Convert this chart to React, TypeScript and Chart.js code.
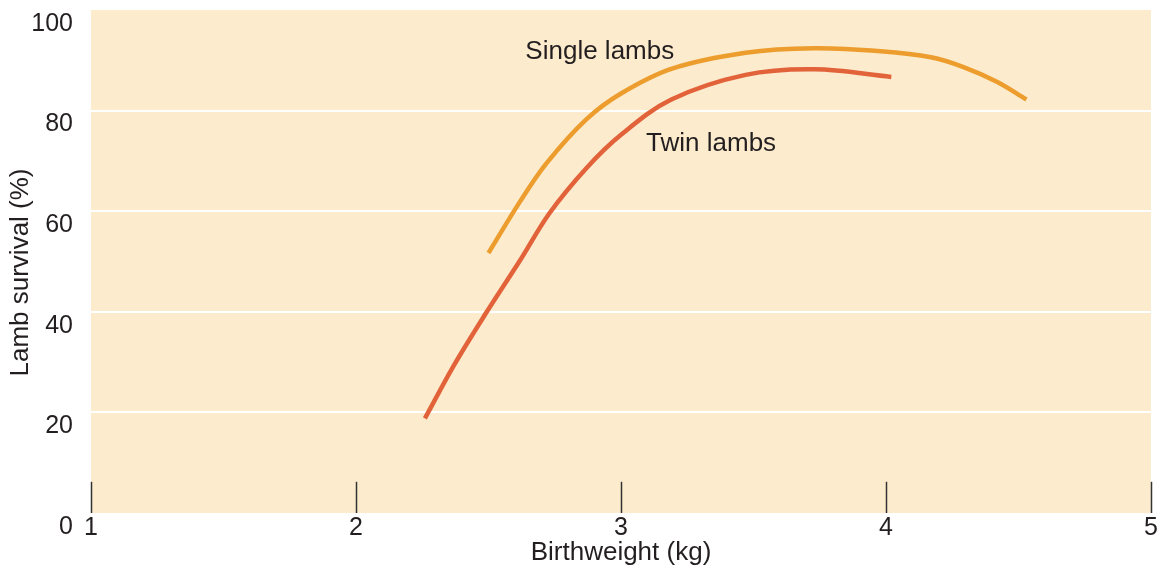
import React, { useEffect, useRef } from "react";
import { Chart, registerables } from "chart.js";

Chart.register(...registerables);

const xTicks = [1, 2, 3, 4, 5];
const yTicks = [0, 20, 40, 60, 80, 100];

const singleX = [2.5, 2.62, 2.72, 2.87, 3.0, 3.19, 3.47, 3.73, 3.98, 4.17, 4.29, 4.42, 4.53];
const singleY = [51.7, 62.0, 69.6, 78.3, 83.4, 88.3, 91.5, 92.4, 91.8, 90.6, 88.7, 85.7, 82.2];

const twinX = [2.26, 2.37, 2.49, 2.62, 2.73, 2.87, 3.0, 3.19, 3.47, 3.73, 4.02];
const twinY = [18.8, 29.4, 39.7, 50.3, 59.6, 68.6, 75.2, 82.2, 87.1, 88.2, 86.7];

const seriesLabels = ["Single lambs", "Twin lambs"];
const labelX = [2.92, 3.34];
const labelY = [91.6, 73.4];

const yTitle = "Lamb survival (%)";
const xTitle = "Birthweight (kg)";

const FONT = "'Liberation Sans', Arial, Helvetica, sans-serif";
const TEXT = "#231f20";

const bgPlugin = {
  id: "bgPlugin",
  beforeDraw(chart: any) {
    const { ctx, chartArea } = chart;
    ctx.save();
    ctx.fillStyle = "#fcebcc";
    ctx.fillRect(chartArea.left, chartArea.top, chartArea.right - chartArea.left, chartArea.bottom - chartArea.top);
    ctx.restore();
  },
  beforeDatasetsDraw(chart: any) {
    const { ctx } = chart;
    const xs = chart.scales.x;
    const ys = chart.scales.y;
    const y0 = ys.getPixelForValue(0);
    const y1 = ys.getPixelForValue(6.2);
    ctx.save();
    ctx.strokeStyle = "#333";
    ctx.lineWidth = 1.5;
    xTicks.forEach((v) => {
      const x = Math.round(xs.getPixelForValue(v)) + 0.5;
      ctx.beginPath();
      ctx.moveTo(x, y0);
      ctx.lineTo(x, y1);
      ctx.stroke();
    });
    ctx.restore();
  },
  afterDatasetsDraw(chart: any) {
    const { ctx, chartArea } = chart;
    const xs = chart.scales.x;
    const ys = chart.scales.y;
    ctx.save();
    ctx.fillStyle = TEXT;
    ctx.font = `26px ${FONT}`;
    ctx.textAlign = "center";
    ctx.textBaseline = "middle";
    seriesLabels.forEach((t, i) => {
      ctx.fillText(t, xs.getPixelForValue(labelX[i]), ys.getPixelForValue(labelY[i]));
    });
    // y-axis title
    ctx.translate(21, (chartArea.top + chartArea.bottom) / 2 + 11);
    ctx.rotate(-Math.PI / 2);
    ctx.fillText(yTitle, 0, 0);
    ctx.restore();
  },
};

const zeroPad = (s: any) => {
  s.paddingTop = 0;
  s.paddingBottom = 0;
  s.paddingLeft = 0;
  s.paddingRight = 0;
};

export default function App() {
  const ref = useRef<HTMLCanvasElement | null>(null);
  useEffect(() => {
    document.body.style.margin = "0";
    const chart = new Chart(ref.current as HTMLCanvasElement, {
      type: "line",
      data: {
        datasets: [
          {
            label: seriesLabels[0],
            data: singleX.map((x, i) => ({ x, y: singleY[i] })),
            borderColor: "#ec9d2e",
            borderWidth: 4.5,
            pointRadius: 0,
            tension: 0.35,
            borderCapStyle: "butt",
          },
          {
            label: seriesLabels[1],
            data: twinX.map((x, i) => ({ x, y: twinY[i] })),
            borderColor: "#e2623a",
            borderWidth: 4.5,
            pointRadius: 0,
            tension: 0.35,
            borderCapStyle: "butt",
          },
        ],
      },
      options: {
        animation: false,
        responsive: false,
        maintainAspectRatio: false,
        layout: { padding: { top: 10, right: 9, left: 0, bottom: 0 } },
        plugins: { legend: { display: false }, tooltip: { enabled: false } },
        scales: {
          x: {
            type: "linear",
            min: 1,
            max: 5,
            afterBuildTicks: (s: any) => {
              s.ticks = xTicks.map((v) => ({ value: v }));
            },
            afterFit: (s: any) => {
              s.height = 57;
              zeroPad(s);
            },
            grid: { display: false, drawTicks: false },
            border: { display: false },
            ticks: {
              color: TEXT,
              font: { family: FONT, size: 25 },
              padding: 0,
              maxRotation: 0,
              autoSkip: false,
            },
            title: {
              display: true,
              text: xTitle,
              color: TEXT,
              font: { family: FONT, size: 26 },
              padding: { top: 0, bottom: 2 },
            },
          },
          y: {
            type: "linear",
            min: 0,
            max: 100,
            afterBuildTicks: (s: any) => {
              s.ticks = yTicks.map((v) => ({ value: v }));
            },
            afterFit: (s: any) => {
              s.width = 91;
              zeroPad(s);
            },
            grid: {
              drawTicks: false,
              lineWidth: 2,
              color: (c: any) =>
                c.tick && c.tick.value > 0 && c.tick.value < 100 ? "#ffffff" : "rgba(0,0,0,0)",
            },
            border: { display: false },
            ticks: {
              color: TEXT,
              font: { family: FONT, size: 25 },
              padding: 18,
              labelOffset: 14,
            },
          },
        },
      },
      plugins: [bgPlugin],
    } as any);
    return () => chart.destroy();
  }, []);
  return (
    <div style={{ width: 1160, height: 570 }}>
      <canvas ref={ref} width={1160} height={570} />
    </div>
  );
}
